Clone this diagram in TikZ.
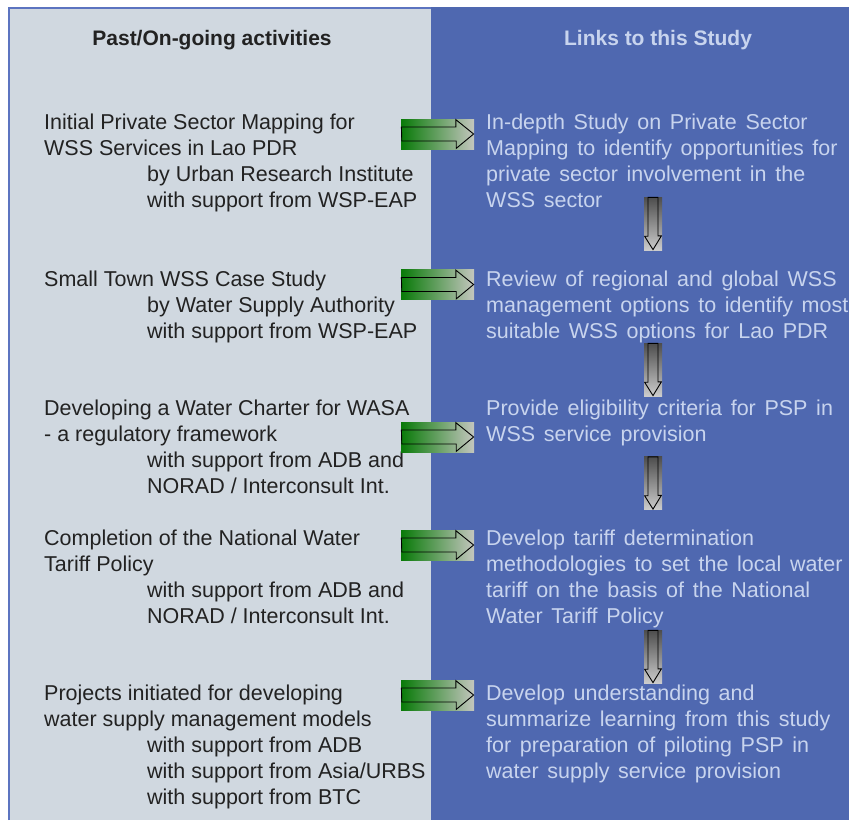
\documentclass[tikz,border=0pt]{standalone}
\usepackage{fontspec}
\setmainfont{Liberation Sans}
\newfontfamily\linkfont[WordSpace=1.45]{Liberation Sans}
\usetikzlibrary{positioning}
\definecolor{pastbg}{RGB}{208,216,224}
\definecolor{linkbg}{RGB}{79,104,176}
\definecolor{panelline}{RGB}{92,116,192}
\definecolor{linktext}{RGB}{200,212,238}
\definecolor{pasttext}{RGB}{34,34,34}
\definecolor{arrowgreen}{RGB}{8,122,8}
\definecolor{arrowgray}{RGB}{196,198,190}
\tikzset{
  pastblock/.style={anchor=base west, align=left, inner sep=0pt, text=pasttext,
    font=\fontsize{21.5}{26}\selectfont},
  linkblock/.style={pastblock, text=linktext, font=\linkfont\fontsize{21.5}{26}\selectfont},
  headline/.style={anchor=base, inner sep=0pt, font=\fontsize{21}{26}\selectfont\bfseries},
  rightbox/.style={inner sep=0pt, minimum width=73pt, minimum height=30pt,
    left color=arrowgreen, right color=arrowgray},
  downbox/.style={inner sep=0pt, minimum width=18pt, minimum height=53pt,
    top color=black!70, bottom color=black!20},
  blockline/.style={draw=black, line width=0.9pt, line join=miter}
}
\newcommand{\indentby}{\hspace*{103pt}}
% outline of a block arrow drawn over its shaded box
\newcommand{\rightoutline}[1]{\draw[blockline] ([shift={(0.6,-7)}]#1.west) -- ++(54.4,0) -- ++(0,-7.4)
  -- ([xshift=-0.6pt]#1.east) -- ++(-17.4,14.4) -- ++(0,-7.4) -- ++(-54.4,0) -- cycle;}
\newcommand{\downoutline}[1]{\draw[blockline] ([shift={(-5,0.6)}]#1.north) -- ++(10,0) -- ++(0,38.4)
  -- ++(3.4,0) -- ([yshift=0.6pt]#1.south) -- ++(-8.4,-13.4) -- ++(3.4,0) -- cycle;}
\begin{document}
\begin{tikzpicture}[x=1pt, y=-1pt]
  \useasboundingbox (0,0) rectangle (849,820);
  % two panels
  \fill[pastbg] (9,8) rectangle (431,820);
  \fill[linkbg] (431,7) rectangle (849,820);
  \draw[panelline, line width=2pt] (9,820) -- (9,8) -- (431,8);

  % headings
  \node[headline, text=pasttext] (pasthead) at (212,45) {Past/On-going activities};
  \node[headline, text=linktext] (linkhead) at (658,45) {Links to this Study};

  % past / on-going activities (placed by their last line)
  \node[pastblock] (past1) at (44,207) {Initial Private Sector Mapping for\\WSS Services in Lao PDR\\\indentby by Urban Research Institute\\\indentby with support from WSP-EAP};
  \node[pastblock] (past2) at (44,338) {Small Town WSS Case Study\\\indentby by Water Supply Authority\\\indentby with support from WSP-EAP};
  \node[pastblock] (past3) at (44,493) {Developing a Water Charter for WASA\\- a regulatory framework\\\indentby with support from ADB and\\\indentby NORAD / Interconsult Int.};
  \node[pastblock] (past4) at (44,623) {Completion of the National Water\\Tariff Policy\\\indentby with support from ADB and\\\indentby NORAD / Interconsult Int.};
  \node[pastblock] (past5) at (44,804) {Projects initiated for developing\\water supply management models\\\indentby with support from ADB\\\indentby with support from Asia/URBS\\\indentby with support from BTC};

  % links to this study
  \node[linkblock] (link1) at (486,207) {In-depth Study on Private Sector\\Mapping to identify opportunities for\\private sector involvement in the\\WSS sector};
  \node[linkblock] (link2) at (486,338) {Review of regional and global WSS\\management options to identify most\\suitable WSS options for Lao PDR};
  \node[linkblock] (link3) at (486,441) {Provide eligibility criteria for PSP in\\WSS service provision};
  \node[linkblock] (link4) at (486,623) {Develop tariff determination\\methodologies to set the local water\\tariff on the basis of the National\\Water Tariff Policy};
  \node[linkblock] (link5) at (486,778) {Develop understanding and\\summarize learning from this study\\for preparation of piloting PSP in\\water supply service provision};

  % block arrows
  \node[rightbox] (go1) at (437.5,134) {};
  \node[rightbox] (go2) at (437.5,284.5) {};
  \node[rightbox] (go3) at (437.5,437) {};
  \node[rightbox] (go4) at (437.5,545) {};
  \node[rightbox] (go5) at (437.5,695) {};
  \node[downbox] (next1) at (653,223.5) {};
  \node[downbox] (next2) at (653,369.5) {};
  \node[downbox] (next3) at (653,483) {};
  \node[downbox] (next4) at (653,656.5) {};
  \rightoutline{go1} \rightoutline{go2} \rightoutline{go3} \rightoutline{go4} \rightoutline{go5}
  \downoutline{next1} \downoutline{next2} \downoutline{next3} \downoutline{next4}
\end{tikzpicture}
\end{document}
